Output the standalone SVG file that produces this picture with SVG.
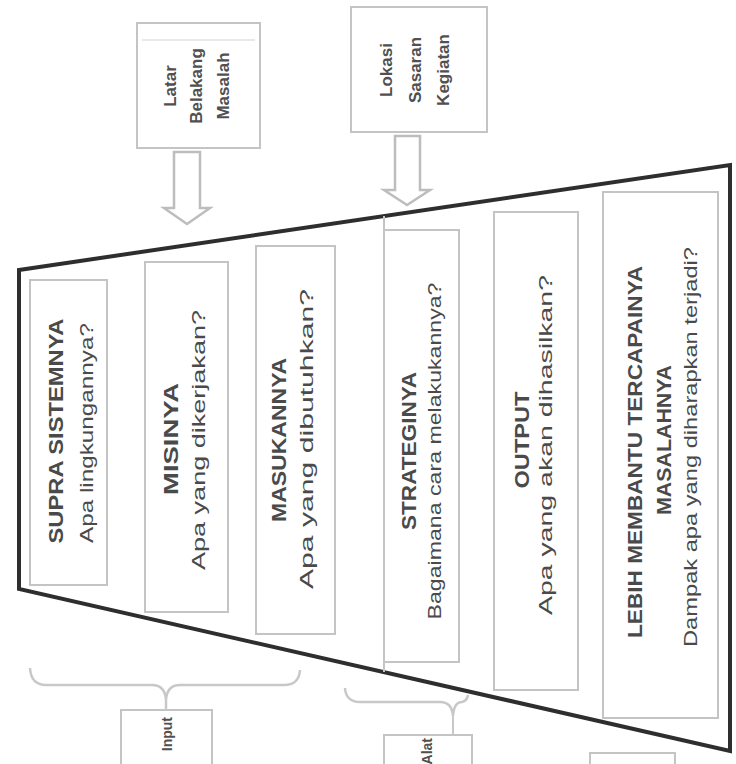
<svg xmlns="http://www.w3.org/2000/svg" width="736" height="764" viewBox="0 0 736 764">
<style>
.bg{fill:#ffffff}
.box{fill:none;stroke:#c4c4c4;stroke-width:2}
.sbox{fill:#ffffff;stroke:#c4c4c4;stroke-width:2}
.frame{fill:none;stroke:#2e2e2e;stroke-width:4;stroke-linejoin:miter}
.arrow{fill:#ffffff;stroke:#bdbdbd;stroke-width:2.5;stroke-linejoin:miter}
.brace{fill:none;stroke:#c8c8c8;stroke-width:2.5}
.h{font-family:"Liberation Sans",Arial,sans-serif;font-weight:bold;font-size:21px;fill:#4a4a4a}
.q{font-family:"Liberation Sans",Arial,sans-serif;font-size:19px;fill:#4a4a4a}
.s{font-family:"Liberation Sans",Arial,sans-serif;font-weight:bold;font-size:17px;fill:#505050}
.b{font-family:"Liberation Sans",Arial,sans-serif;font-weight:bold;font-size:14px;fill:#505050}
</style>
<rect class="bg" x="0" y="0" width="736" height="764"/>

<g id="frame">
<polygon class="frame" points="19,270 730,165 730,751 19,589"/>
</g>

<g id="top-box-1">
<rect class="sbox" x="137" y="23" width="123" height="125"/>
<line x1="142" y1="40" x2="255" y2="40" stroke="#e0e0e0" stroke-width="1.5"/>
<text class="s" transform="translate(176,86) rotate(-90)" text-anchor="middle">Latar</text>
<text class="s" transform="translate(202,86) rotate(-90)" text-anchor="middle">Belakang</text>
<text class="s" transform="translate(229,86) rotate(-90)" text-anchor="middle">Masalah</text>
</g>

<g id="top-box-2">
<rect class="sbox" x="351" y="7" width="136" height="125"/>
<text class="s" transform="translate(392,70) rotate(-90)" text-anchor="middle">Lokasi</text>
<text class="s" transform="translate(421,70) rotate(-90)" text-anchor="middle">Sasaran</text>
<text class="s" transform="translate(449,70) rotate(-90)" text-anchor="middle">Kegiatan</text>
</g>

<g id="col-1">
<rect class="box" x="30" y="280" width="77" height="305"/>
<text class="h" transform="translate(63,431) rotate(-90)" text-anchor="middle" textLength="225" lengthAdjust="spacingAndGlyphs">SUPRA SISTEMNYA</text>
<text class="q" transform="translate(93,433) rotate(-90)" text-anchor="middle" textLength="220" lengthAdjust="spacingAndGlyphs">Apa lingkungannya?</text>
</g>

<g id="col-2">
<rect class="box" x="145" y="262" width="83" height="350"/>
<text class="h" transform="translate(178,439) rotate(-90)" text-anchor="middle" textLength="112" lengthAdjust="spacingAndGlyphs">MISINYA</text>
<text class="q" transform="translate(205,440) rotate(-90)" text-anchor="middle" textLength="260" lengthAdjust="spacingAndGlyphs">Apa yang dikerjakan?</text>
</g>

<g id="col-3">
<rect class="box" x="256" y="246" width="79" height="388"/>
<text class="h" transform="translate(286,440) rotate(-90)" text-anchor="middle" textLength="164" lengthAdjust="spacingAndGlyphs">MASUKANNYA</text>
<text class="q" transform="translate(313,439) rotate(-90)" text-anchor="middle" textLength="300" lengthAdjust="spacingAndGlyphs">Apa yang dibutuhkan?</text>
</g>

<g id="col-4">
<line x1="384" y1="216" x2="384" y2="672" stroke="#c4c4c4" stroke-width="2"/>
<rect class="box" x="384" y="230" width="75" height="432"/>
<text class="h" transform="translate(416,451) rotate(-90)" text-anchor="middle" textLength="158" lengthAdjust="spacingAndGlyphs">STRATEGINYA</text>
<text class="q" transform="translate(441,451) rotate(-90)" text-anchor="middle" textLength="337" lengthAdjust="spacingAndGlyphs">Bagaimana cara melakukannya?</text>
</g>

<g id="col-5">
<rect class="box" x="494" y="212" width="84" height="478"/>
<text class="h" transform="translate(529,440) rotate(-90)" text-anchor="middle" textLength="97" lengthAdjust="spacingAndGlyphs">OUTPUT</text>
<text class="q" transform="translate(552,445) rotate(-90)" text-anchor="middle" textLength="340" lengthAdjust="spacingAndGlyphs">Apa yang akan dihasilkan?</text>
</g>

<g id="col-6">
<rect class="box" x="603" y="192" width="115" height="526"/>
<text class="h" transform="translate(642,452) rotate(-90)" text-anchor="middle" textLength="372" lengthAdjust="spacingAndGlyphs">LEBIH MEMBANTU TERCAPAINYA</text>
<text class="h" transform="translate(671,440) rotate(-90)" text-anchor="middle" textLength="150" lengthAdjust="spacingAndGlyphs">MASALAHNYA</text>
<text class="q" transform="translate(697,447) rotate(-90)" text-anchor="middle" textLength="400" lengthAdjust="spacingAndGlyphs">Dampak apa yang diharapkan terjadi?</text>
</g>

<g id="bottom-box-1">
<rect class="sbox" x="121" y="710" width="91" height="70"/>
<text class="b" transform="translate(172,717) rotate(-90)" text-anchor="end">Input</text>
</g>

<g id="bottom-box-2">
<rect class="sbox" x="384" y="735" width="88" height="50"/>
<text class="b" transform="translate(432,738) rotate(-90)" text-anchor="end" font-size="13">Alat</text>
</g>

<g id="bottom-box-3">
<rect class="sbox" x="590" y="753" width="85" height="30"/>
</g>

<g id="connectors">
<polygon class="arrow" points="174,152 200,152 200,208 210,208 187,224 164,208 174,208"/>
<polygon class="arrow" points="395,136 420,136 420,190 430,190 407,205 384,190 395,190"/>
<path class="brace" d="M30,668 Q31,685 46,685 L152,685 Q165,685 166,700 Q167,685 180,685 L284,685 Q299,685 300,670"/>
<line x1="166" y1="700" x2="166" y2="710" stroke="#c8c8c8" stroke-width="2.5"/>
<path class="brace" d="M345,688 Q346,702 360,702 L440,702 Q452,702 453,716 Q454,702 462,702 Q467,701 468,695"/>
<line x1="453" y1="716" x2="453" y2="735" stroke="#c8c8c8" stroke-width="2"/>
</g>
</svg>
